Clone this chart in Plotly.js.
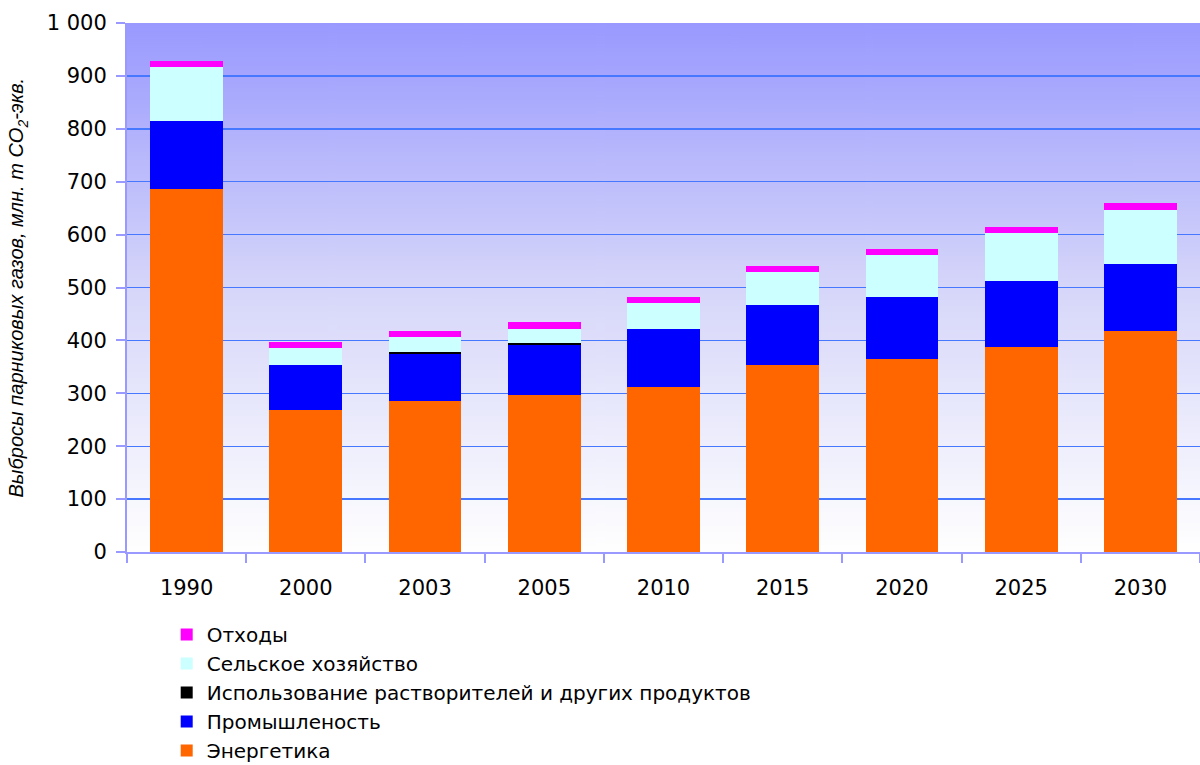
<!DOCTYPE html>
<html>
<head>
<meta charset="utf-8">
<script src="https://cdn.plot.ly/plotly-3.0.1.min.js"></script>
<style>html,body{margin:0;padding:0;background:#fff;}#chart{width:1200px;height:765px;}</style>
</head>
<body>
<div id="chart"></div>
<script>
const years = ['1990','2000','2003','2005','2010','2015','2020','2025','2030'];
const energy    = [686, 268, 286, 297, 312, 353, 365, 388, 418];
const industry  = [129,  85,  88,  94, 109, 114, 117, 125, 126];
const solvents  = [  0,   0,   3.5, 3.5, 0,   0,   0,   0,   0];
const agriculture = [102, 32,  28.5, 28, 49,  62,  79,  90, 102];
const waste     = [ 12,  12,  12,  12.5, 12, 12,  12,  12,  13];

const seriesNames = ['Энергетика','Промышленость','Использование растворителей и других продуктов','Сельское хозяйство','Отходы'];
const seriesColors = ['#ff6600','#0000ff','#000000','#ccffff','#ff00ff'];
const seriesValues = [energy, industry, solvents, agriculture, waste];
const yTitle = 'Выбросы парниковых газов, млн. т CO<sub>2</sub>-экв.';

// background gradient image
const cv = document.createElement('canvas');
cv.width = 8; cv.height = 530;
const ctx = cv.getContext('2d');
const g = ctx.createLinearGradient(0,0,0,530);
g.addColorStop(0,'rgb(153,153,255)');
g.addColorStop(0.5,'rgb(214,214,250)');
g.addColorStop(1,'rgb(255,255,255)');
ctx.fillStyle = g; ctx.fillRect(0,0,8,530);
const bgUrl = cv.toDataURL();

const traces = seriesNames.map((n,i)=>({
  type:'bar', name:n, x:years, y:seriesValues[i],
  marker:{color:seriesColors[i], line:{width:0}},
  hoverinfo:'x+y+name'
}));

const tickFont = {family:'DejaVu Sans, Liberation Sans, sans-serif', size:21, color:'#000'};

const layout = {
  width:1200, height:765,
  margin:{l:127, r:0, t:23, b:213, pad:0, autoexpand:false},
  paper_bgcolor:'#ffffff',
  plot_bgcolor:'rgba(0,0,0,0)',
  barmode:'stack',
  bargap:0.39,
  separators:', ',
  font:{family:'Liberation Sans, Arial, sans-serif', color:'#000'},
  images:[{source:bgUrl, xref:'paper', yref:'paper', x:0, y:1, sizex:1, sizey:1, sizing:'stretch', layer:'below'}],
  xaxis:{
    type:'category',
    showline:true, linecolor:'#9999ff', linewidth:2,
    ticks:'outside', tickson:'boundaries', ticklen:9, tickwidth:2, tickcolor:'#9999ff',
    tickfont:tickFont, ticklabelstandoff:16,
    showgrid:false, fixedrange:true
  },
  yaxis:{
    range:[0,1000], dtick:100, tick0:0,
    separatethousands:true,
    showline:true, linecolor:'#9999ff', linewidth:2,
    ticks:'outside', ticklen:9, tickwidth:2, tickcolor:'#9999ff',
    tickfont:tickFont, ticklabelstandoff:5,
    showgrid:true, gridcolor:'#4677ff', gridwidth:1.4,
    zeroline:false,
    automargin:false, fixedrange:true
  },
  annotations:[{
    text:yTitle, textangle:-90, showarrow:false,
    xref:'paper', yref:'paper', x:-0.1016, y:0.5, xanchor:'center', yanchor:'middle',
    font:{family:'Liberation Sans, Arial, sans-serif', size:20, style:'italic', color:'#000'}
  }],
  legend:{
    orientation:'v', traceorder:'reversed',
    x:0.037, xanchor:'left', y:-0.119, yanchor:'top',
    font:{family:'DejaVu Sans, Liberation Sans, sans-serif', size:20}, bgcolor:'rgba(0,0,0,0)'
  },
  showlegend:true
};

Plotly.newPlot('chart', traces, layout, {displayModeBar:false, staticPlot:true});
</script>
</body>
</html>
